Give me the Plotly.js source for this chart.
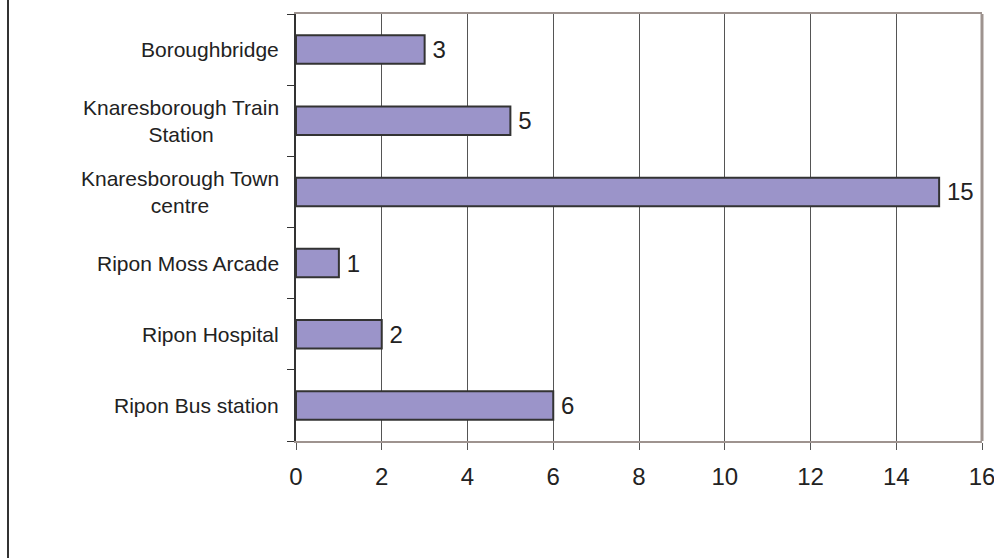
<!DOCTYPE html>
<html><head><meta charset="utf-8">
<script src="https://cdn.plot.ly/plotly-3.0.1.min.js"></script>
<style>body{margin:0;background:#fff}#chart{width:994px;height:558px}</style>
</head><body><div id="chart"></div>
<script>
const categories = ["Ripon Bus station","Ripon Hospital","Ripon Moss Arcade","Knaresborough Town centre","Knaresborough Train Station","Boroughbridge"];
const categoryLabels = ["Ripon Bus station","Ripon Hospital","Ripon Moss Arcade","Knaresborough Town<br>centre","Knaresborough Train<br>Station","Boroughbridge"];
const values = [6,2,1,15,5,3];
const xTicks = [0,2,4,6,8,10,12,14,16];

const W=994,H=558,L=296,R=12,T=14,B=117;
const pw=W-L-R;
const font = "Liberation Sans, Arial, sans-serif";

const annotations = categories.map((c,i)=>({
  xref:'paper', yref:'y', x:(281-L)/pw, y:c, xanchor:'right', yanchor:'middle',
  text:categoryLabels[i], showarrow:false, align:'center',
  font:{family:font,size:21,color:'#222'}
}));

Plotly.newPlot('chart',[{
  type:'bar', orientation:'h', y:categories, x:values, width:0.4,
  marker:{color:'#9b94c9', line:{color:'#333',width:2}},
  texttemplate:'\u2009%{x}', textposition:'outside', cliponaxis:false,
  textfont:{family:font,size:24,color:'#222'}, hoverinfo:'none'
}],{
  width:W,height:H, margin:{l:L,r:R,t:T,b:B},
  paper_bgcolor:'#fff', plot_bgcolor:'#fff', showlegend:false,
  xaxis:{range:[0,16], tickvals:xTicks, ticktext:xTicks.map(String),
    showgrid:true, gridcolor:'#555', gridwidth:1, zeroline:false,
    showline:true, linecolor:'#9e938f', linewidth:2, mirror:true,
    ticks:'outside', ticklen:7, tickcolor:'#555', tickwidth:1, ticklabeloverflow:'allow',
    tickfont:{family:font,size:24,color:'#222'}, ticklabelstandoff:6, fixedrange:true},
  yaxis:{type:'category', categoryorder:'array', categoryarray:categories,
    showticklabels:false, showgrid:false, zeroline:false,
    showline:true, linecolor:'#333', linewidth:2,
    ticks:'outside', ticklen:7, tickcolor:'#333', tickwidth:1, tickson:'boundaries', fixedrange:true},
  annotations:annotations,
  shapes:[
    {type:'line', xref:'paper', yref:'paper', x0:1, x1:1, y0:0, y1:1, line:{color:'#9e938f',width:3}},
    {type:'line', xref:'paper', yref:'paper', x0:(8-L)/pw, x1:(8-L)/pw, y0:-B/(H-T-B), y1:1+T/(H-T-B), line:{color:'#333',width:2}}
  ]
},{displayModeBar:false,staticPlot:true});
</script></body></html>
